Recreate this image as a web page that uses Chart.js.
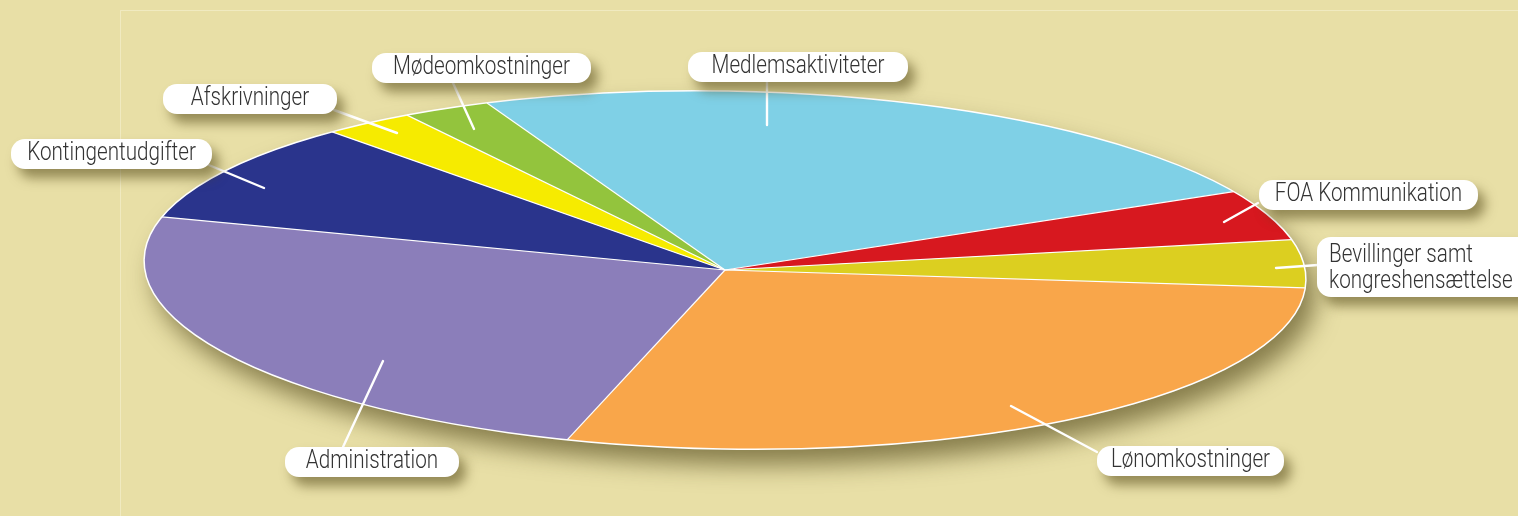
<!DOCTYPE html>
<html>
<head>
<meta charset="utf-8">
<script src="https://cdn.jsdelivr.net/npm/chart.js@4.4.1/dist/chart.umd.min.js"></script>
<style>
html,body{margin:0;padding:0;background:#e8dfa6;}
#wrap{width:1518px;height:516px;position:relative;}
canvas{display:block;}
</style>
</head>
<body>
<div id="wrap"><canvas id="c" width="1518" height="516"></canvas></div>
<script>
// ---- data ----
const categories = ['Medlemsaktiviteter','FOA Kommunikation','Bevillinger samt kongreshensættelse','Lønomkostninger','Administration','Kontingentudgifter','Afskrivninger','Mødeomkostninger'];
const shares = [23.7, 4.5, 4.3, 28.6, 24.6, 9.2, 2.6, 2.5];
const sliceColors = ['#7fd0e6','#d7181f','#dccf20','#f9a64a','#8b7eba','#2a348c','#f6eb00','#93c43d'];
const labelLines = [['Medlemsaktiviteter'],['FOA Kommunikation'],['Bevillinger samt','kongreshensættelse'],['Lønomkostninger'],['Administration'],['Kontingentudgifter'],['Afskrivninger'],['Mødeomkostninger']];

// ---- layout (annotation boxes and leader lines) ----
const labelLayout = [
  {box:[688,52,220,30], from:[767,82], to:[767,125], align:'center'},
  {box:[1259,180,219,30], from:[1258,203], to:[1224,222], align:'center'},
  {box:[1317,237,214,60], from:[1318,265], to:[1276,268], align:'left'},
  {box:[1097,446,187,30], from:[1097,452], to:[1011,406], align:'center'},
  {box:[285,447,174,30], from:[343,447], to:[383,361], align:'center'},
  {box:[11,139,201,30], from:[204,163], to:[264,188], align:'center'},
  {box:[163,84,174,30], from:[334,110], to:[397,133], align:'center'},
  {box:[372,53,219,30], from:[453,83], to:[474,129], align:'center'}
];
const RADIUS_X = 581, RADIUS_Y = 179;
const K = RADIUS_Y / RADIUS_X;
const TILT = 1.0 * Math.PI / 180;
const FONT = '300 25px Roboto, "DejaVu Sans Condensed", sans-serif';
const REF_TEXT = 'Medlemsaktiviteter', REF_TEXT_W = 173;

function roundRect(ctx,x,y,w,h,r){
  ctx.beginPath();
  ctx.moveTo(x+r,y);
  ctx.lineTo(x+w-r,y);
  ctx.arcTo(x+w,y,x+w,y+r,r);
  ctx.lineTo(x+w,y+h-r);
  ctx.arcTo(x+w,y+h,x+w-r,y+h,r);
  ctx.lineTo(x+r,y+h);
  ctx.arcTo(x,y+h,x,y+h-r,r);
  ctx.lineTo(x,y+r);
  ctx.arcTo(x,y,x+r,y,r);
  ctx.closePath();
}
function toScreen(cx,cy,R,ang){
  const px = R*Math.cos(ang), py = R*K*Math.sin(ang);
  return [cx + px*Math.cos(TILT) - py*Math.sin(TILT), cy + px*Math.sin(TILT) + py*Math.cos(TILT)];
}

const ellipsePlugin = {
  id:'ellipsePie',
  beforeDraw(chart){
    const ctx = chart.ctx;
    ctx.save();
    ctx.fillStyle = '#e8dfa6';
    ctx.fillRect(0,0,chart.width,chart.height);
    ctx.strokeStyle = 'rgba(255,255,240,0.35)';
    ctx.lineWidth = 1;
    ctx.beginPath();
    ctx.moveTo(120.5, chart.height); ctx.lineTo(120.5,10.5); ctx.lineTo(chart.width,10.5);
    ctx.stroke();
    ctx.restore();
  },
  beforeDatasetsDraw(chart){
    const ctx = chart.ctx;
    const a = chart.getDatasetMeta(0).data[0];
    const {x,y,outerRadius} = a.getProps(['x','y','outerRadius'], true);
    ctx.save();
    ctx.shadowColor = 'rgba(70,60,15,0.6)';
    ctx.shadowBlur = 24;
    ctx.shadowOffsetX = 10;
    ctx.shadowOffsetY = 16;
    ctx.fillStyle = '#9a8f5a';
    ctx.beginPath();
    ctx.ellipse(x,y,outerRadius,outerRadius*K,TILT,0,Math.PI*2);
    ctx.fill();
    ctx.restore();
    ctx.save();
    ctx.translate(x,y); ctx.rotate(TILT); ctx.scale(1,K); ctx.translate(-x,-y);
  },
  afterDatasetsDraw(chart){
    const ctx = chart.ctx;
    ctx.restore();
    const meta = chart.getDatasetMeta(0);
    const a0 = meta.data[0];
    const {x,y,outerRadius} = a0.getProps(['x','y','outerRadius'], true);
    ctx.save();
    ctx.strokeStyle = '#ffffff';
    ctx.lineWidth = 1.2;
    meta.data.forEach(arc=>{
      const {startAngle} = arc.getProps(['startAngle'], true);
      const p = toScreen(x,y,outerRadius,startAngle);
      ctx.beginPath();
      ctx.moveTo(x,y);
      ctx.lineTo(p[0],p[1]);
      ctx.stroke();
    });
    ctx.lineWidth = 1.5;
    ctx.beginPath();
    ctx.ellipse(x,y,outerRadius,outerRadius*K,TILT,0,Math.PI*2);
    ctx.stroke();
    ctx.restore();

    // leader lines
    ctx.save();
    ctx.strokeStyle = '#ffffff';
    ctx.lineWidth = 2.4;
    ctx.lineCap = 'round';
    labelLayout.forEach(L=>{
      ctx.beginPath();
      ctx.moveTo(L.from[0],L.from[1]);
      ctx.lineTo(L.to[0],L.to[1]);
      ctx.stroke();
    });
    ctx.restore();

    // text squeeze to mimic condensed face
    ctx.save();
    ctx.font = FONT;
    const sx = Math.min(1, REF_TEXT_W / ctx.measureText(REF_TEXT).width);
    ctx.restore();

    // boxes
    labelLayout.forEach((L,i)=>{
      const [bx,by,bw,bh] = L.box;
      ctx.save();
      ctx.shadowColor = 'rgba(80,70,20,0.55)';
      ctx.shadowBlur = 12;
      ctx.shadowOffsetX = 7;
      ctx.shadowOffsetY = 9;
      ctx.fillStyle = '#ffffff';
      roundRect(ctx,bx,by,bw,bh,14);
      ctx.fill();
      ctx.restore();
      const lines = labelLines[i];
      lines.forEach((t,j)=>{
        ctx.save();
        ctx.fillStyle = '#333333';
        ctx.font = FONT;
        ctx.textBaseline = 'alphabetic';
        const ty = lines.length === 1 ? by + 21 : by + 25 + j*26;
        if (L.align === 'left') {
          ctx.textAlign = 'left';
          ctx.translate(bx+12, ty);
        } else {
          ctx.textAlign = 'center';
          ctx.translate(bx+bw/2, ty);
        }
        ctx.scale(sx,1);
        ctx.fillText(t, 0, 0);
        ctx.restore();
      });
    });
  }
};

new Chart(document.getElementById('c'), {
  type:'pie',
  data:{
    labels: categories,
    datasets:[{
      data: shares,
      backgroundColor: sliceColors,
      borderWidth: 0,
      radius: RADIUS_X,
      clip: false
    }]
  },
  options:{
    responsive:false,
    animation:false,
    events:[],
    rotation: 335.5,
    layout:{padding:{left:0,right:68,top:24,bottom:0}},
    plugins:{legend:{display:false}, tooltip:{enabled:false}}
  },
  plugins:[ellipsePlugin]
});
</script>
</body>
</html>
